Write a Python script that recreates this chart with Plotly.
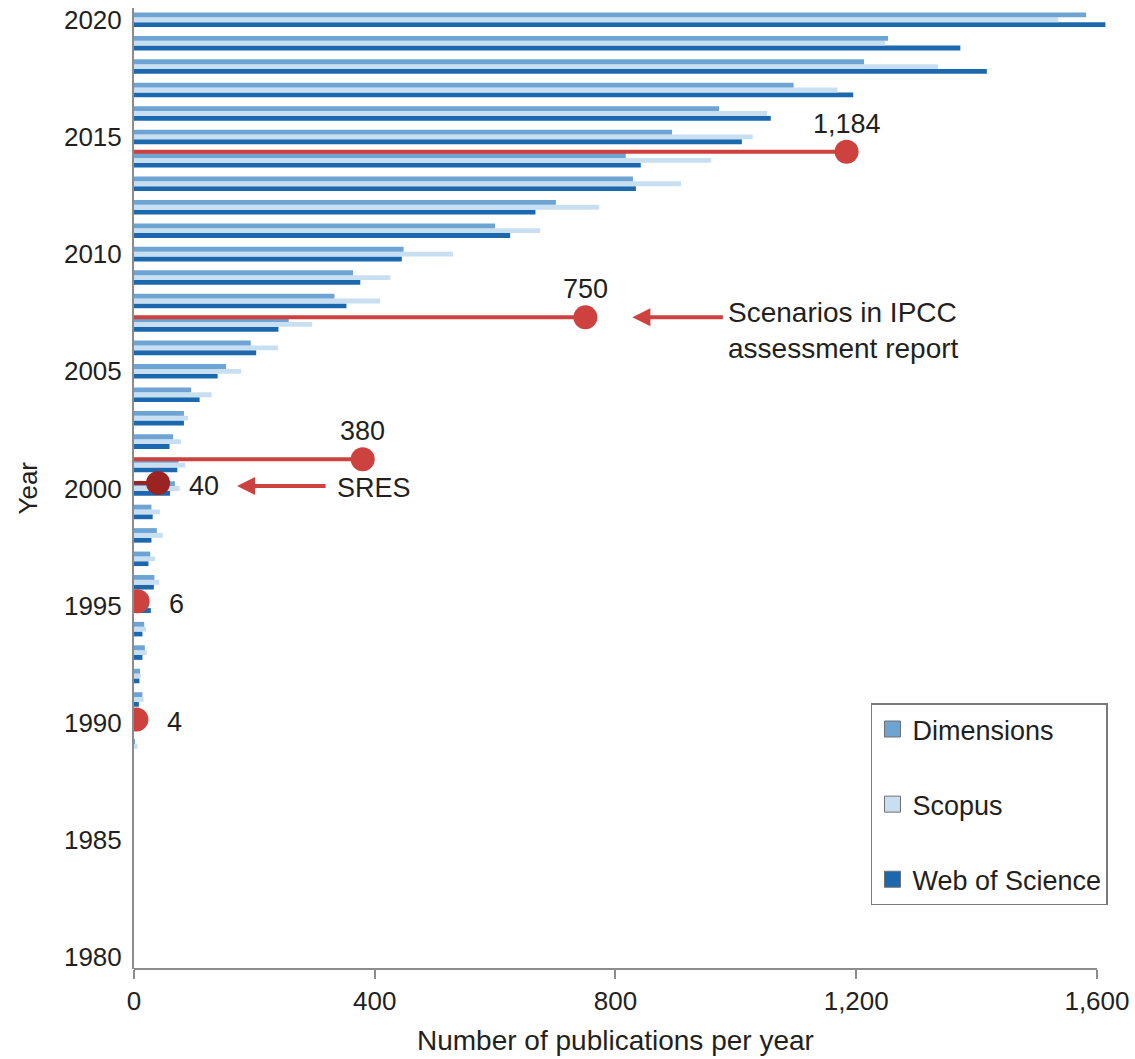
import plotly.graph_objects as go

# ---------------- data ----------------
years = list(range(1980, 2021))
dimensions = [0] * 9 + [1, 10, 14, 10, 18, 17, 22, 34, 27, 38, 29, 68, 74, 65, 83, 95,
                        153, 194, 257, 333, 364, 448, 600, 701, 829, 817, 894, 972,
                        1096, 1213, 1253, 1582]
scopus = [0] * 9 + [6, 12, 16, 11, 21, 20, 25, 42, 35, 48, 43, 76, 85, 78, 90, 129,
                    178, 239, 296, 409, 426, 530, 675, 773, 909, 959, 1028, 1052,
                    1169, 1336, 1248, 1536]
wos = [0] * 9 + [0, 6, 8, 9, 14, 14, 28, 33, 24, 29, 31, 60, 72, 59, 83, 109,
                 139, 203, 240, 353, 376, 445, 625, 667, 834, 842, 1010, 1058,
                 1195, 1417, 1373, 1614]

milestone_years = [1990, 1995, 2000, 2001, 2007, 2014]
milestone_counts = [4, 6, 40, 380, 750, 1184]
milestone_labels = ["4", "6", "40", "380", "750", "1,184"]
milestone_label_side = ["right", "right", "right", "top", "top", "top"]
milestone_dark = [False, False, True, False, False, False]

x_ticks = [0, 400, 800, 1200, 1600]
y_ticks = [1980, 1985, 1990, 1995, 2000, 2005, 2010, 2015, 2020]

# ---------------- style ----------------
C_DIM = "#6ea4d4"
C_SCO = "#c8dff2"
C_WOS = "#1b68ae"
C_RED = "#cd423e"
C_DARK = "#9b2422"
TXT = "#231f20"
AX = "#8c8c8c"
FONT = "Liberation Sans, Arial, Helvetica, sans-serif"
FS_TICK = 26
FS = 27
FS_TITLE = 28

X_MAX_VIEW = 1620   # plot area runs a little past the last tick, as in the original

fig = go.Figure()

# bars (first trace is drawn lowest in each group)
for name, vals, col in [("Web of Science", wos, C_WOS),
                        ("Scopus", scopus, C_SCO),
                        ("Dimensions", dimensions, C_DIM)]:
    fig.add_trace(go.Bar(y=years, x=vals, orientation="h", name=name,
                         marker=dict(color=col, line=dict(width=0)),
                         showlegend=False))

# legend entries
for name, col in [("Dimensions", C_DIM), ("Scopus", C_SCO), ("Web of Science", C_WOS)]:
    fig.add_trace(go.Scatter(x=[None], y=[None], mode="markers", name=name,
                             legendgroup=name,
                             marker=dict(symbol="square", size=16, color=col,
                                         line=dict(color="#6f6f6f", width=1))))

# milestone lines and dots
for yr, v, dark in zip(milestone_years, milestone_counts, milestone_dark):
    c = C_DARK if dark else C_RED
    fig.add_trace(go.Scatter(x=[0, v], y=[yr, yr], mode="lines", yaxis="y2",
                             line=dict(color=c, width=4), showlegend=False,
                             hoverinfo="skip"))
fig.add_trace(go.Scatter(x=milestone_counts, y=milestone_years, mode="markers",
                         yaxis="y2", showlegend=False,
                         marker=dict(size=24, color=[C_DARK if d else C_RED for d in milestone_dark],
                                     line=dict(width=0))))

annotations = []
for yr, v, lab, side in zip(milestone_years, milestone_counts, milestone_labels,
                            milestone_label_side):
    if side == "top":
        annotations.append(dict(x=v, y=yr, xref="x", yref="y2", text=lab,
                                showarrow=False, yshift=28, xanchor="center",
                                yanchor="middle", font=dict(size=FS, color=TXT)))
    else:
        annotations.append(dict(x=v, y=yr, xref="x", yref="y2", text=lab,
                                showarrow=False, xshift=29, yshift=-3,
                                xanchor="left", yanchor="middle",
                                font=dict(size=FS, color=TXT)))

# arrows
annotations.append(dict(x=750, y=2007, xref="x", yref="y2", xshift=47,
                        ax=92, ay=0, text="", showarrow=True, arrowhead=2,
                        arrowsize=0.9, arrowwidth=4, arrowcolor=C_RED))
annotations.append(dict(x=750, y=2007, xref="x", yref="y2", xshift=141, yshift=-13,
                        text="Scenarios in IPCC<br>assessment report", showarrow=False,
                        xanchor="left", yanchor="middle", align="left",
                        font=dict(size=FS_TITLE, color=TXT)))
annotations.append(dict(x=40, y=2000, xref="x", yref="y2", xshift=79, yshift=-3,
                        ax=90, ay=0, text="", showarrow=True, arrowhead=2,
                        arrowsize=0.9, arrowwidth=4, arrowcolor=C_RED))
annotations.append(dict(x=40, y=2000, xref="x", yref="y2", xshift=177, yshift=-5,
                        text="SRES", showarrow=False, xanchor="left", yanchor="middle",
                        font=dict(size=FS, color=TXT)))

# axis titles
annotations.append(dict(x=0, y=0.5, xref="paper", yref="paper", xshift=-107,
                        text="Year", textangle=-90, showarrow=False,
                        xanchor="center", yanchor="middle", font=dict(size=FS_TICK, color=TXT)))
annotations.append(dict(x=800, y=0, xref="x", yref="paper", yshift=-71,
                        text="Number of publications per year", showarrow=False,
                        xanchor="center", yanchor="middle", font=dict(size=FS_TITLE, color=TXT)))

# x axis line drawn only up to the last tick
shapes = [dict(type="line", xref="x", yref="paper", x0=0, x1=x_ticks[-1], y0=0, y1=0,
               line=dict(color=AX, width=2), layer="above")]

plot_w = 963 * X_MAX_VIEW / 1600
fig.update_layout(
    width=1135, height=1059,
    margin=dict(l=134, r=1135 - 134 - plot_w, t=8, b=90, pad=0),
    paper_bgcolor="white", plot_bgcolor="white",
    font=dict(family=FONT, size=FS, color=TXT),
    barmode="group", bargap=0.38, bargroupgap=0.0,
    xaxis=dict(range=[0, X_MAX_VIEW], tickvals=x_ticks, tickformat=",", ticks="outside",
               ticklen=9, tickwidth=2, tickcolor=AX, showline=False,
               showgrid=False, zeroline=False, automargin=False,
               tickfont=dict(size=FS_TICK, color=TXT)),
    yaxis=dict(range=[1979.5, 2020.5], tickvals=y_ticks, ticks="", showline=True,
               linecolor=AX, linewidth=2, showgrid=False, zeroline=False,
               automargin=False, ticklabelstandoff=5,
               tickfont=dict(size=FS_TICK, color=TXT)),
    yaxis2=dict(range=[1979.45, 2020.08], overlaying="y", visible=False),
    legend=dict(x=(871 - 134) / plot_w, y=0.2763, xanchor="left", yanchor="top",
                bordercolor="#7a7a7a", borderwidth=1.5, bgcolor="white",
                tracegroupgap=37, traceorder="grouped",
                font=dict(size=FS, color=TXT)),
    annotations=annotations,
    shapes=shapes,
    showlegend=True,
)

fig.write_html("out.html", config={"displayModeBar": False},
               post_script="document.body.style.margin='0px';")
